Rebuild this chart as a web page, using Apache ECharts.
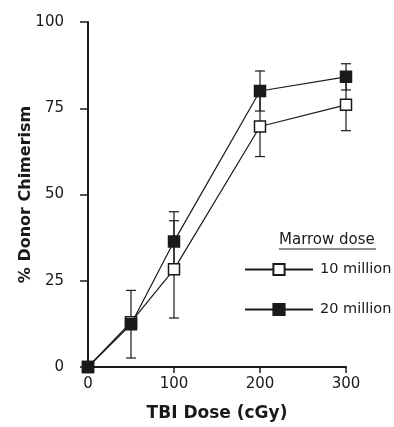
<!DOCTYPE html>
<html>
<head>
<meta charset="utf-8">
<script src="https://cdn.jsdelivr.net/npm/echarts@6/dist/echarts.min.js"></script>
<style>
  html, body { margin: 0; padding: 0; background: #fff; }
  #chart { width: 394px; height: 427px; }
</style>
</head>
<body>
<div id="chart"></div>
<script>
// TBI dose (cGy)
const doses = [0, 50, 100, 200, 300];
// % donor chimerism, 10 million marrow cells
const tenMean = [0, 13, 28.3, 69.7, 76];
const tenErr = [0, 0, 14.1, 8.7, 7.5];
// % donor chimerism, 20 million marrow cells
const twentyMean = [0, 12.4, 36.4, 80, 84.1];
const twentyErr = [0, 9.8, 8.6, 5.8, 3.8];

const xTicks = [0, 100, 200, 300];
const yTicks = [0, 25, 50, 75, 100];

const font = 'DejaVu Sans';
const ink = '#1a1a1a';

function pairs(xs, ys) {
  return xs.map((x, i) => [x, ys[i]]);
}
function errRows(xs, ys, es) {
  return xs.map((x, i) => [x, ys[i] - es[i], ys[i] + es[i]]);
}

// error bar with caps, drawn through the axis scales
function renderErr(params, api) {
  const lo = api.coord([api.value(0), api.value(1)]);
  const hi = api.coord([api.value(0), api.value(2)]);
  const cap = 5;
  const style = { stroke: ink, lineWidth: 1.2 };
  return {
    type: 'group',
    children: [
      { type: 'line', shape: { x1: lo[0], y1: lo[1], x2: hi[0], y2: hi[1] }, style },
      { type: 'line', shape: { x1: lo[0] - cap, y1: lo[1], x2: lo[0] + cap, y2: lo[1] }, style },
      { type: 'line', shape: { x1: hi[0] - cap, y1: hi[1], x2: hi[0] + cap, y2: hi[1] }, style }
    ]
  };
}

const chart = echarts.init(document.getElementById('chart'));
chart.setOption({
  animation: false,
  backgroundColor: '#fff',
  grid: { left: 88, right: 48, top: 22, bottom: 59 },
  xAxis: {
    type: 'value',
    min: xTicks[0],
    max: xTicks[xTicks.length - 1],
    interval: 100,
    name: 'TBI Dose (cGy)',
    nameLocation: 'middle',
    nameGap: 38,
    nameTextStyle: { fontFamily: font, fontWeight: 'bold', fontSize: 17, color: ink },
    axisLine: { lineStyle: { color: ink, width: 2 } },
    axisTick: { length: 6, lineStyle: { color: ink, width: 1.5 } },
    axisLabel: { fontFamily: font, fontSize: 15, color: ink, margin: 10 },
    splitLine: { show: false }
  },
  yAxis: {
    type: 'value',
    min: yTicks[0],
    max: yTicks[yTicks.length - 1],
    interval: 25,
    name: '% Donor Chimerism',
    nameLocation: 'middle',
    nameGap: 54,
    nameMoveOverlap: false,
    nameTextStyle: { fontFamily: font, fontWeight: 'bold', fontSize: 16, color: ink },
    axisLine: { show: true, lineStyle: { color: ink, width: 2 } },
    axisTick: { show: true, length: 8, lineStyle: { color: ink, width: 1.5 } },
    axisLabel: { fontFamily: font, fontSize: 15, color: ink, margin: 24 },
    splitLine: { show: false }
  },
  legend: {
    data: ['10 million', '20 million'],
    orient: 'vertical',
    left: 244,
    top: 262,
    padding: 0,
    itemWidth: 68,
    itemHeight: 14,
    itemGap: 25,
    textStyle: { fontFamily: font, fontSize: 14.5, color: ink, padding: [0, 0, 0, 2] },
    selectedMode: false
  },
  graphic: [
    {
      type: 'text',
      left: 279,
      top: 233,
      style: { text: 'Marrow dose', font: '15px "DejaVu Sans"', fill: ink }
    },
    {
      type: 'line',
      shape: { x1: 279, y1: 249, x2: 376, y2: 249 },
      style: { stroke: ink, lineWidth: 1 }
    }
  ],
  series: [
    {
      type: 'custom',
      renderItem: renderErr,
      data: errRows(doses, tenMean, tenErr),
      encode: { x: 0, y: [1, 2] },
      clip: false,
      z: 1
    },
    {
      type: 'custom',
      renderItem: renderErr,
      data: errRows(doses, twentyMean, twentyErr),
      encode: { x: 0, y: [1, 2] },
      clip: false,
      z: 1
    },
    {
      name: '10 million',
      type: 'line',
      data: pairs(doses, tenMean),
      symbol: 'rect',
      symbolSize: 11,
      clip: false,
      lineStyle: { color: ink, width: 1.2 },
      itemStyle: { color: '#fff', borderColor: ink, borderWidth: 1.5 },
      z: 3
    },
    {
      name: '20 million',
      type: 'line',
      data: pairs(doses, twentyMean),
      symbol: 'rect',
      symbolSize: 11,
      clip: false,
      lineStyle: { color: ink, width: 1.2 },
      itemStyle: { color: ink, borderColor: ink, borderWidth: 1.5 },
      z: 4
    }
  ]
});
window.addEventListener('resize', () => { chart.resize(); });
</script>
</body>
</html>
